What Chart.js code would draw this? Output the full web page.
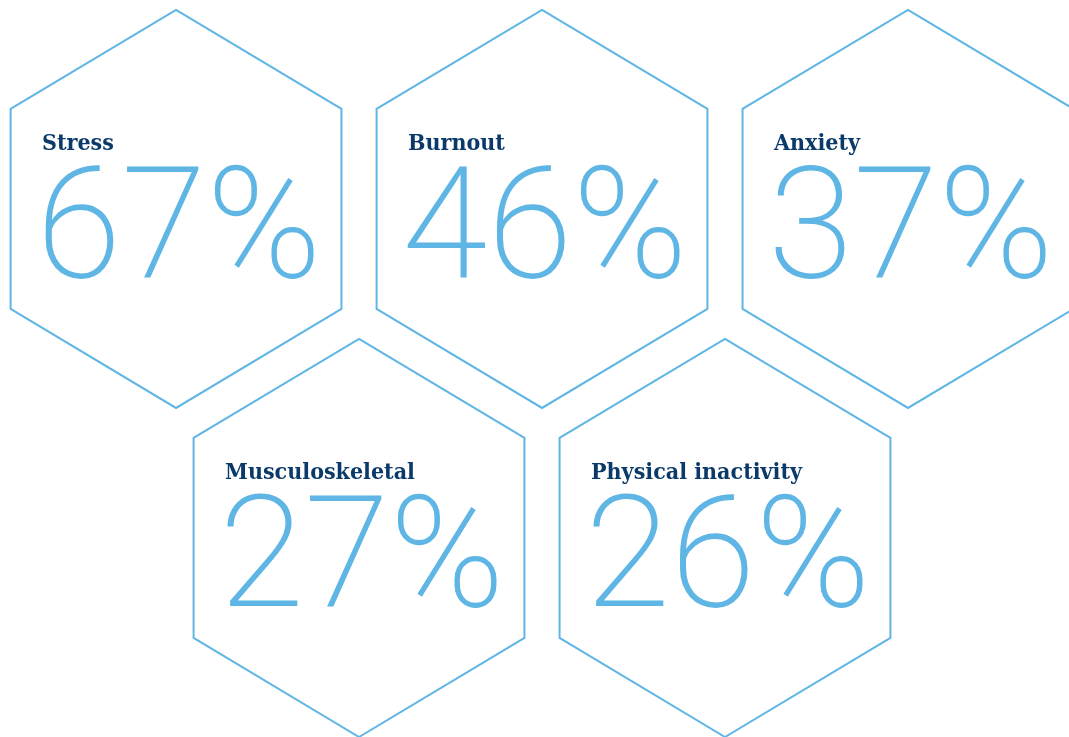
<!DOCTYPE html>
<html lang="en">
<head>
    <meta charset="UTF-8">
    <title>Health issues</title>
    <script src="https://cdn.jsdelivr.net/npm/chart.js"></script>
    <style>
        html, body { margin: 0; padding: 0; background: #ffffff; }
        #wrap { width: 1069px; height: 737px; position: relative; }
    </style>
</head>
<body>
    <div id="wrap"><canvas id="hexChart"></canvas></div>

    <script>
        // data read from the infographic
        const categories = ['Stress', 'Burnout', 'Anxiety', 'Musculoskeletal', 'Physical inactivity'];
        const percentages = [67, 46, 37, 27, 26];

        const lineBlue = '#5fb6e4';
        const navy = '#0b3a6a';

        // honeycomb layout: 3 cells on the first row, 2 offset cells below
        function cellOf(i) {
            if (i < 3) return { x: i, y: 0 };
            return { x: (i - 3) + 0.5, y: 1 };
        }

        const points = categories.map((c, i) => cellOf(i));

        // draws a hexagon around every point, with the label and the big number inside
        const hexPlugin = {
            id: 'hexCells',
            afterDatasetsDraw(chart) {
                const ctx = chart.ctx;
                const xs = chart.scales.x;
                const ys = chart.scales.y;
                const meta = chart.getDatasetMeta(0);
                const hw = xs.getPixelForValue(0.452) - xs.getPixelForValue(0);
                const tip = ys.getPixelForValue(0.605) - ys.getPixelForValue(0);
                const side = ys.getPixelForValue(0.304) - ys.getPixelForValue(0);

                ctx.save();
                meta.data.forEach((pt, i) => {
                    const cx = pt.x, cy = pt.y;
                    ctx.beginPath();
                    ctx.moveTo(cx, cy - tip);
                    ctx.lineTo(cx + hw, cy - side);
                    ctx.lineTo(cx + hw, cy + side);
                    ctx.lineTo(cx, cy + tip);
                    ctx.lineTo(cx - hw, cy + side);
                    ctx.lineTo(cx - hw, cy - side);
                    ctx.closePath();
                    ctx.strokeStyle = lineBlue;
                    ctx.lineWidth = 2;
                    ctx.stroke();

                    ctx.textAlign = 'left';
                    ctx.textBaseline = 'alphabetic';
                    ctx.fillStyle = navy;
                    ctx.font = 'bold 23px "DejaVu Serif Condensed", "DejaVu Serif", serif';
                    ctx.fillText(categories[i], cx - 134, cy - 59);

                    ctx.fillStyle = lineBlue;
                    ctx.font = '200 155px Roboto, "Noto Sans", sans-serif';
                    ctx.fillText(percentages[i] + '%', cx - 140, cy + 68);
                });
                ctx.restore();
            }
        };

        const ctx = document.getElementById('hexChart').getContext('2d');
        new Chart(ctx, {
            type: 'scatter',
            data: {
                datasets: [{
                    label: 'Share',
                    data: points,
                    pointRadius: 0,
                    pointHoverRadius: 0
                }]
            },
            options: {
                responsive: true,
                maintainAspectRatio: false,
                animation: false,
                layout: { padding: 0 },
                scales: {
                    x: { display: false, min: -0.481, max: 2.440 },
                    y: { display: false, min: -0.635, max: 1.605, reverse: true }
                },
                plugins: {
                    legend: { display: false },
                    tooltip: { enabled: false }
                }
            },
            plugins: [hexPlugin]
        });
    </script>
</body>
</html>
